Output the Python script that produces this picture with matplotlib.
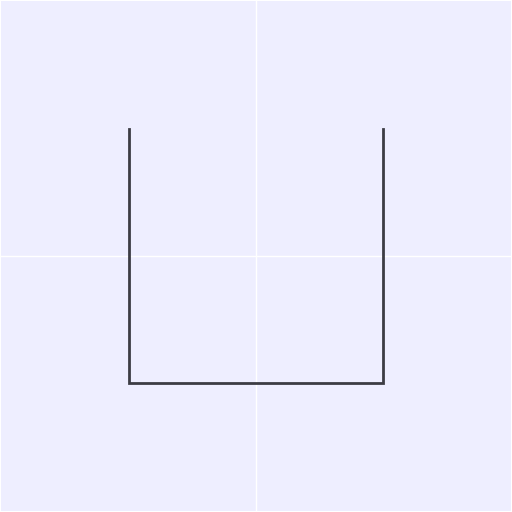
import matplotlib
matplotlib.use("Agg")
import matplotlib.pyplot as plt

# U-förmige Linie
xs = [0, 0, 1, 1]
ys = [1, 0, 0, 1]
grid_ticks = [0.5]

fig = plt.figure(figsize=(5.12, 5.12), dpi=100)
fig.patch.set_facecolor('white')
ax = fig.add_axes([0.002, 0.002, 0.996, 0.996])
ax.set_facecolor('#eeeeff')
ax.plot(xs, ys, color='#3c3c44', linewidth=2.0, solid_joinstyle='miter')
ax.set_xlim(-0.5, 1.5)
ax.set_ylim(-0.5, 1.5)
ax.set_xticks(grid_ticks)
ax.set_yticks(grid_ticks)
ax.grid(color='white', linewidth=1.0)
ax.tick_params(length=0, labelbottom=False, labelleft=False)
for s in ax.spines.values():
    s.set_visible(False)
ax.set_axisbelow(True)

fig.savefig('out.png', dpi=100)
